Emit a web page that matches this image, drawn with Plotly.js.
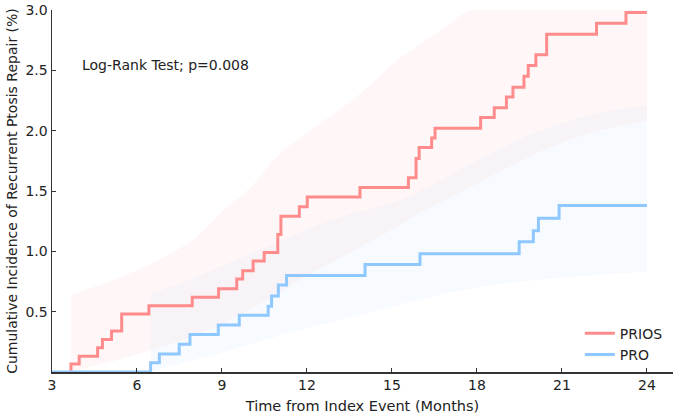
<!DOCTYPE html>
<html>
<head>
<meta charset="utf-8">
<script src="https://cdn.plot.ly/plotly-3.0.1.min.js"></script>
<style>html,body{margin:0;padding:0;background:#fff;}#chart{width:675px;height:414px;}</style>
</head>
<body>
<div id="chart"></div>
<script>
// PRIOS step curve (event times in months, cumulative incidence %)
const priosTimes = [3.67, 3.67, 3.96, 4.61, 4.78, 5.10, 5.46, 6.42, 7.95, 8.88, 9.52, 9.73, 10.10, 10.49, 10.97, 11.08, 11.73, 12.01, 13.87, 15.58, 15.85, 15.96, 16.40, 16.52, 18.13, 18.61, 19.04, 19.27, 19.66, 19.81, 20.08, 20.46, 22.22, 23.26, 24.00];
const priosValues = [0, 0.066, 0.13, 0.20, 0.27, 0.34, 0.48, 0.55, 0.62, 0.69, 0.77, 0.84, 0.92, 0.99, 1.14, 1.29, 1.37, 1.45, 1.53, 1.61, 1.77, 1.86, 1.94, 2.02, 2.11, 2.19, 2.28, 2.36, 2.45, 2.54, 2.63, 2.80, 2.89, 2.98, 2.98];

// PRO step curve
const proTimes = [3.00, 6.48, 6.79, 7.49, 7.87, 8.87, 9.61, 10.63, 10.75, 10.99, 11.28, 14.05, 15.99, 19.49, 19.99, 20.17, 20.90, 24.00];
const proValues = [0, 0.077, 0.15, 0.23, 0.31, 0.39, 0.47, 0.545, 0.63, 0.72, 0.80, 0.89, 0.98, 1.08, 1.17, 1.275, 1.38, 1.38];

// Confidence bands
const priosBandTimes = [3.67, 5, 6.5, 8, 9, 10, 11, 12, 13, 14, 15, 16, 17, 18, 20, 22, 24];
const priosUpper = [0.64, 0.75, 0.90, 1.10, 1.33, 1.53, 1.80, 1.98, 2.15, 2.33, 2.55, 2.72, 2.88, 3.05, 3.30, 3.50, 3.60];
const priosLower = [0, 0.08, 0.18, 0.30, 0.40, 0.52, 0.65, 0.80, 0.92, 1.05, 1.18, 1.32, 1.44, 1.56, 1.80, 1.98, 2.08];

const proBandTimes = [6.48, 8, 9, 10, 11, 12, 13, 14, 15, 16, 18, 20, 22, 24];
const proUpper = [0.65, 0.78, 0.88, 0.98, 1.08, 1.18, 1.27, 1.34, 1.40, 1.50, 1.75, 1.98, 2.13, 2.21];
const proLower = [0, 0.10, 0.16, 0.23, 0.30, 0.36, 0.42, 0.48, 0.54, 0.60, 0.70, 0.76, 0.80, 0.83];

const xTicks = [3, 6, 9, 12, 15, 18, 21, 24];
const yTicks = [0.5, 1.0, 1.5, 2.0, 2.5, 3.0];

const red = '#ff8c8c';
const blue = '#8fc8ff';

const traces = [
  {x: priosBandTimes, y: priosLower, mode: 'lines', line: {width: 0, shape: 'spline'}, showlegend: false, hoverinfo: 'skip'},
  {x: priosBandTimes, y: priosUpper, mode: 'lines', line: {width: 0, shape: 'spline'}, fill: 'tonexty', fillcolor: 'rgba(255,140,140,0.065)', showlegend: false, hoverinfo: 'skip'},
  {x: proBandTimes, y: proLower, mode: 'lines', line: {width: 0, shape: 'spline'}, showlegend: false, hoverinfo: 'skip'},
  {x: proBandTimes, y: proUpper, mode: 'lines', line: {width: 0, shape: 'spline'}, fill: 'tonexty', fillcolor: 'rgba(143,200,255,0.07)', showlegend: false, hoverinfo: 'skip'},
  {x: priosTimes, y: priosValues, name: 'PRIOS', mode: 'lines', line: {color: red, width: 3, shape: 'hv'}},
  {x: proTimes, y: proValues, name: 'PRO', mode: 'lines', line: {color: blue, width: 3, shape: 'hv'}}
];

const layout = {
  width: 675, height: 414,
  margin: {l: 52, r: 2, t: 10, b: 42},
  paper_bgcolor: '#fff', plot_bgcolor: '#fff',
  font: {family: 'DejaVu Sans', size: 14, color: '#222'},
  xaxis: {
    range: [3, 24.92], tickvals: xTicks, ticktext: xTicks.map(String),
    ticks: 'inside', ticklen: 4, tickwidth: 1, tickcolor: '#333',
    showline: true, linecolor: '#333', linewidth: 1.5, showgrid: false, zeroline: false,
    tickfont: {size: 14, color: '#222'},
    title: {text: 'Time from Index Event (Months)', font: {size: 14.5, color: '#222'}, standoff: 8}
  },
  yaxis: {
    range: [0, 3.0], tickvals: yTicks, ticktext: yTicks.map(v => v.toFixed(1)),
    ticks: 'inside', ticklen: 4, tickwidth: 1, tickcolor: '#333',
    showline: true, linecolor: '#333', linewidth: 1.5, showgrid: false, zeroline: false,
    tickfont: {size: 14, color: '#222'},
    title: {text: 'Cumulative Incidence of Recurrent Ptosis Repair (%)', font: {size: 14, color: '#222'}, standoff: 4}
  },
  showlegend: true,
  legend: {x: 0.85, y: 0.15, xanchor: 'left', yanchor: 'top', traceorder: 'normal', bgcolor: 'rgba(0,0,0,0)', font: {size: 14, color: '#222'}},
  annotations: [{
    xref: 'paper', yref: 'paper', x: 0.045, y: 0.848, xanchor: 'left', yanchor: 'middle',
    text: 'Log-Rank Test; p=0.008', showarrow: false, font: {size: 14, color: '#222'}
  }]
};

Plotly.newPlot('chart', traces, layout, {displayModeBar: false, staticPlot: true});
</script>
</body>
</html>
